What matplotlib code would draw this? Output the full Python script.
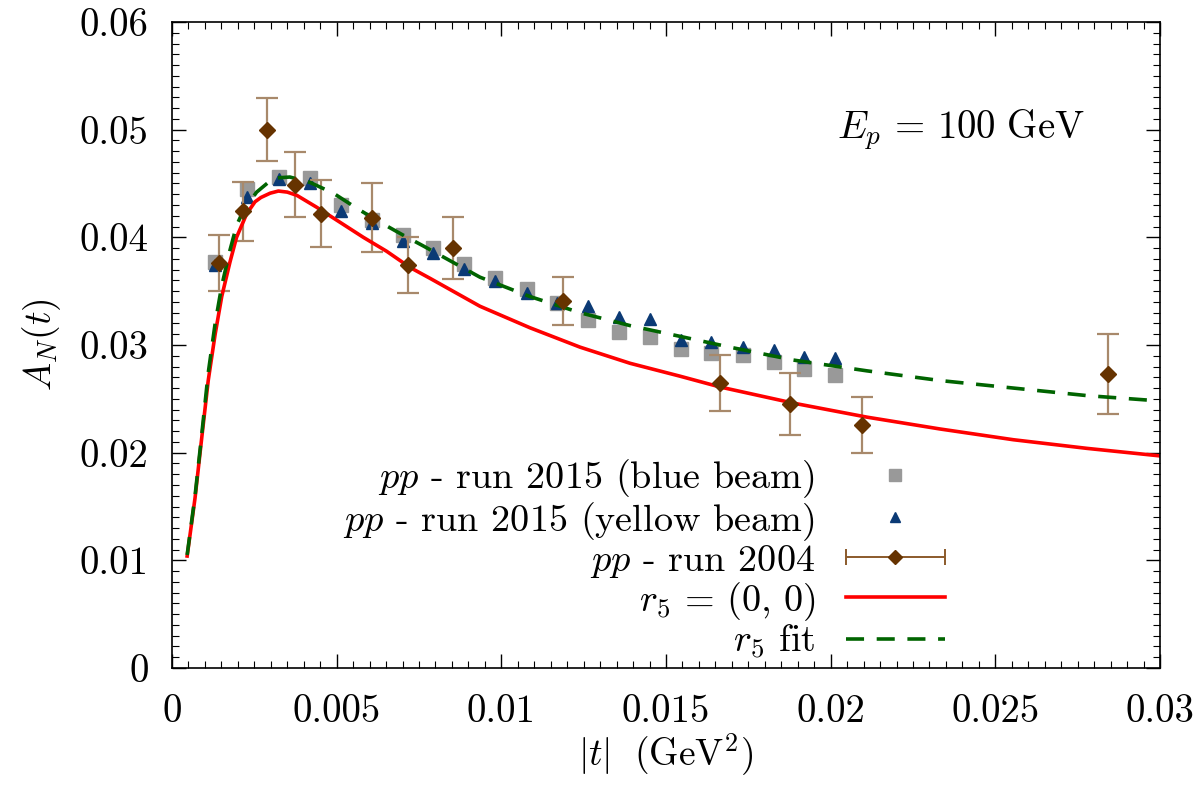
import numpy as np
import matplotlib
matplotlib.use("Agg")
import matplotlib.pyplot as plt
from matplotlib.ticker import MultipleLocator, FuncFormatter
from matplotlib.legend_handler import HandlerErrorbar

plt.rcParams['font.family'] = ['cmr10']
plt.rcParams['mathtext.fontset'] = 'cm'
plt.rcParams['axes.formatter.use_mathtext'] = True

# run 2015 blue beam (squares)
t_2015 = [0.00131, 0.00229, 0.00326, 0.00419, 0.00512, 0.00606, 0.00700, 0.00792,
          0.00887, 0.00981, 0.01077, 0.01168, 0.01264, 0.01358, 0.01452, 0.01546,
          0.01636, 0.01735, 0.01828, 0.01920, 0.02013]
an_blue = [0.0377, 0.0445, 0.0456, 0.0455, 0.0430, 0.0416, 0.0402, 0.0390,
           0.0375, 0.0362, 0.0352, 0.0339, 0.0323, 0.0312, 0.0307, 0.0296,
           0.0293, 0.0291, 0.0284, 0.0278, 0.0272]
# run 2015 yellow beam (triangles)
an_yellow = [0.0374, 0.0437, 0.0454, 0.0450, 0.0424, 0.0413, 0.0397, 0.0385,
             0.0371, 0.0359, 0.0348, 0.0339, 0.0336, 0.0326, 0.0324, 0.0305,
             0.0303, 0.0298, 0.0295, 0.0289, 0.0288]
# run 2004 (diamonds with errors)
t_2004 = [0.00144, 0.00217, 0.00288, 0.00372, 0.00451, 0.00606, 0.00718,
          0.00852, 0.01186, 0.01665, 0.01875, 0.02094, 0.02843]
an_2004 = [0.0376, 0.0424, 0.0500, 0.0449, 0.0422, 0.0418, 0.0374,
           0.0390, 0.0341, 0.0265, 0.0245, 0.0226, 0.0273]
err_2004 = [0.0026, 0.0027, 0.0029, 0.0030, 0.0031, 0.0032, 0.0026,
            0.0029, 0.0022, 0.0026, 0.0029, 0.0026, 0.0037]
# theory curve r5 = (0,0)
t_red = [0.00046, 0.00070, 0.00090, 0.00110, 0.00131, 0.00151, 0.00176, 0.00196,
         0.00227, 0.00252, 0.00270, 0.00298, 0.00323, 0.00350, 0.00379, 0.00439,
         0.00510, 0.00581, 0.00652, 0.00723, 0.00783, 0.00935, 0.01087, 0.01239,
         0.01391, 0.01543, 0.01664, 0.01887, 0.02110, 0.02332, 0.02555, 0.02778,
         0.03000]
an_red = [0.0104, 0.0158, 0.0213, 0.0267, 0.0310, 0.0345, 0.0377, 0.0400,
          0.0422, 0.0433, 0.0437, 0.0441, 0.0443, 0.0442, 0.0439, 0.0428,
          0.0414, 0.0400, 0.0387, 0.0372, 0.0362, 0.0336, 0.0316, 0.0298,
          0.0283, 0.0271, 0.0261, 0.0246, 0.0233, 0.0222, 0.0212, 0.0204,
          0.0197]
# theory curve r5 fit
t_green = [0.00046, 0.00070, 0.00090, 0.00110, 0.00131, 0.00151, 0.00176, 0.00196,
           0.00217, 0.00257, 0.00308, 0.00358, 0.00419, 0.00490, 0.00561, 0.00632,
           0.00702, 0.00763, 0.00935, 0.01087, 0.01239, 0.01391, 0.01543, 0.01694,
           0.01887, 0.02110, 0.02332, 0.02555, 0.02778, 0.03000]
an_green = [0.0105, 0.0160, 0.0216, 0.0274, 0.0320, 0.0355, 0.0388, 0.0411,
            0.0425, 0.0442, 0.0455, 0.0456, 0.0451, 0.0441, 0.0427, 0.0414,
            0.0402, 0.0392, 0.0363, 0.0345, 0.0330, 0.0318, 0.0308, 0.0298,
            0.0286, 0.0276, 0.0267, 0.0260, 0.0253, 0.0248]

fig = plt.figure(figsize=(11.98, 7.85), dpi=100)
ax = fig.add_axes([172/1198, 117/785, (1160-172)/1198, (668-22)/785])

ax.plot(t_2015, an_blue, linestyle='none', marker='s', ms=10, color='#999999', mec='#999999')
ax.plot(t_2015, an_yellow, linestyle='none', marker='^', ms=9, color='#0b3a75', mec='#0b3a75')
ax.errorbar(t_2004, an_2004, yerr=err_2004, fmt='D', ms=8, color='#663300',
            ecolor='#a8896b', elinewidth=1.6, capsize=8, capthick=1.6)
ax.plot(t_red, an_red, color='#ff0000', lw=2.6)
lg, = ax.plot(t_green, an_green, color='#006400', lw=2.6)
lg.set_dashes([5, 3.5])

ax.set_xlim(0, 0.03)
ax.set_ylim(0, 0.06)
ax.xaxis.set_major_locator(MultipleLocator(0.005))
ax.xaxis.set_minor_locator(MultipleLocator(0.0005))
ax.yaxis.set_major_locator(MultipleLocator(0.01))
ax.yaxis.set_minor_locator(MultipleLocator(0.001))


def fmt(v, pos):
    s = ('%.3f' % v).rstrip('0').rstrip('.')
    return s


ax.xaxis.set_major_formatter(FuncFormatter(fmt))
ax.yaxis.set_major_formatter(FuncFormatter(fmt))
ax.tick_params(which='both', direction='in', top=True, right=True, labelsize=28)
ax.tick_params(which='major', length=10, width=1.0)
ax.tick_params(which='minor', length=5, width=0.8)
ax.tick_params(axis='x', which='major', pad=19)
ax.tick_params(axis='y', which='major', pad=17)
for s in ax.spines.values():
    s.set_linewidth(1.2)

ax.set_xlabel(r'$|t|\ \ (\mathrm{GeV}^2)$', fontsize=27, va='top')
ax.xaxis.set_label_coords(0.5, (668 - 731) / 646)
ax.set_ylabel(r'$A_N(t)$', fontsize=27, labelpad=12)

ax.text(0.0202, 0.0500, r'$E_p\,=\,100\ \mathrm{GeV}$', fontsize=28, va='center', ha='left')

# legend proxies
h1, = ax.plot([], [], linestyle='none', marker='s', ms=8, color='#999999')
h2, = ax.plot([], [], linestyle='none', marker='^', ms=7, color='#0b3a75')
h3 = ax.errorbar([np.nan], [np.nan], xerr=[np.nan], fmt='D', ms=7, color='#663300',
                 ecolor='#8b5a2b', elinewidth=1.4, capsize=6, capthick=1.4)
h4, = ax.plot([], [], color='#ff0000', lw=2.6)
h5, = ax.plot([], [], color='#006400', lw=2.6)
h5.set_dashes([5, 3.5])

fs = 27.5
hl = 2.6
leg = ax.legend([h1, h2, h3, h4, h5],
                [r'$pp$ - run 2015 (blue beam)', r'$pp$ - run 2015 (yellow beam)',
                 r'$pp$ - run 2004', r'$r_5\,=\,(0,\,0)$', r'$r_5$ fit'],
                loc='lower right', bbox_to_anchor=(945/1198, 124/785),
                bbox_transform=fig.transFigure, markerfirst=False, frameon=False,
                fontsize=fs, handlelength=hl, handletextpad=0.8, labelspacing=0.0,
                numpoints=1, borderpad=0, borderaxespad=0,
                handler_map={type(h3): HandlerErrorbar(xerr_size=hl / 2)})
for t in leg.get_texts():
    t.set_ha('right')
leg._legend_box.align = 'right'

fig.savefig('out.png', dpi=100)
